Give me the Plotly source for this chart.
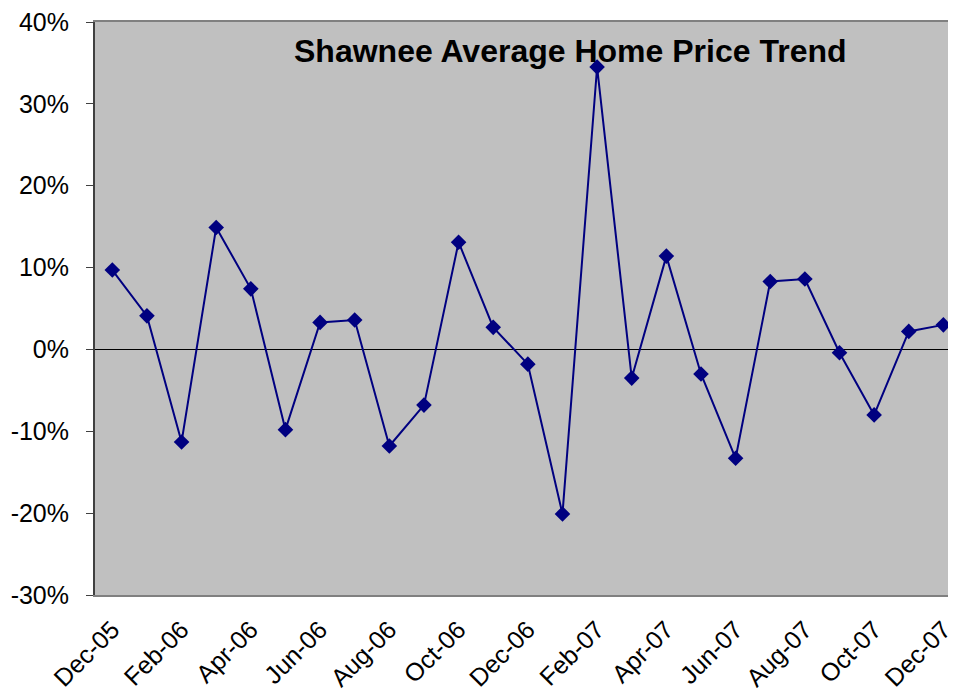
import plotly.graph_objects as go

months = ["Dec-05","Jan-06","Feb-06","Mar-06","Apr-06","May-06","Jun-06","Jul-06","Aug-06",
          "Sep-06","Oct-06","Nov-06","Dec-06","Jan-07","Feb-07","Mar-07","Apr-07","May-07",
          "Jun-07","Jul-07","Aug-07","Sep-07","Oct-07","Nov-07","Dec-07"]
change = [0.097, 0.041, -0.113, 0.149, 0.074, -0.098, 0.033, 0.036, -0.118,
          -0.068, 0.131, 0.027, -0.018, -0.201, 0.345, -0.035, 0.114, -0.030,
          -0.133, 0.083, 0.086, -0.004, -0.080, 0.022, 0.030]
shown_ticks = months[::2]
y_tick_vals = [-0.3, -0.2, -0.1, 0.0, 0.1, 0.2, 0.3, 0.4]
y_tick_text = ["-30%", "-20%", "-10%", "0%", "10%", "20%", "30%", "40%"]
title_text = "Shawnee Average Home Price Trend"

font_family = "Liberation Sans, Arial, sans-serif"

fig = go.Figure()
fig.add_trace(go.Scatter(
    x=list(range(len(months))), y=change, mode="lines+markers",
    line=dict(color="#000080", width=2),
    marker=dict(symbol="diamond", size=12, color="#000080"),
    showlegend=False, cliponaxis=False,
))

fig.update_layout(
    width=948, height=688,
    margin=dict(l=87, r=0, t=10, b=101),
    paper_bgcolor="white", plot_bgcolor="#C0C0C0",
    font=dict(family=font_family, color="black", size=25),
    xaxis=dict(
        range=[-0.5, 24.22],
        tickmode="array",
        tickvals=[months.index(m) for m in shown_ticks],
        ticktext=shown_ticks,
        tickangle=-45,
        showgrid=False, zeroline=False,
        showline=True, linecolor="#808080", linewidth=2, mirror=True,
        ticks="", tickfont=dict(size=25), ticklabelstandoff=8,
        ticklabeloverflow="allow",
    ),
    yaxis=dict(
        range=[-0.3, 0.4],
        tickmode="array", tickvals=y_tick_vals, ticktext=y_tick_text,
        showgrid=False,
        zeroline=True, zerolinecolor="black", zerolinewidth=1,
        showline=True, linecolor="#404040", linewidth=2,
        ticks="outside", ticklen=7, tickcolor="#404040",
        tickfont=dict(size=25), ticklabelstandoff=12,
        ticklabeloverflow="allow",
    ),
    annotations=[dict(
        text="<b>" + title_text + "</b>", x=0.555, y=0.95, xref="paper", yref="paper",
        xanchor="center", yanchor="middle", showarrow=False,
        font=dict(size=32, family=font_family, color="black"),
    )],
)

fig.write_html("out.html")
